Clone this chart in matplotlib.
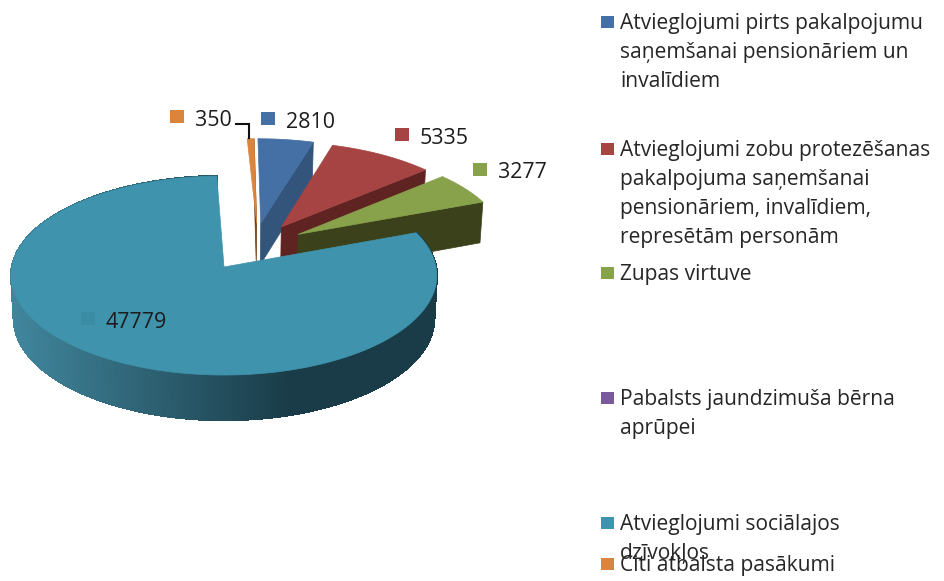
import numpy as np
import matplotlib
matplotlib.use("Agg")
import matplotlib.pyplot as plt
from matplotlib.patches import Polygon, Rectangle
from matplotlib.collections import PolyCollection
from matplotlib.colors import to_rgb

categories = ["Atvieglojumi pirts pakalpojumu\nsaņemšanai pensionāriem un\ninvalīdiem",
              "Atvieglojumi zobu protezēšanas\npakalpojuma saņemšanai\npensionāriem, invalīdiem,\nrepresētām personām",
              "Zupas virtuve",
              "Pabalsts jaundzimuša bērna\naprūpei",
              "Atvieglojumi sociālajos\ndzīvokļos",
              "Citi atbalsta pasākumi"]
values = [2810, 5335, 3277, 0, 47779, 350]

top_colors = ["#4470a5", "#a54442", "#87a24b", "#7b5a9b", "#3f93ad", "#db843d"]
wall_colors = ["#33557c", "#5f2422", "#3b411b", "#4c3763", "#1a3c48", "#6b3a10"]
# how far each slice is pulled out of the pie (sideways, backwards)
offsets = [(0.18, 0.46), (0.28, 0.42), (0.36, 0.34), (0, 0), (0, 0), (0.16, 0.46)]
legend_y = [22, 149, 273, 398, 523, 564]
label_pos = [(286, 120), (420, 136), (498, 171), None, (106, 320), (195, 118)]

FONT = "Open Sans"
K = 0.0854


def project(u, v, z=0):
    den = 1 + K * v + 0.012 * z
    return 224 + 212 * u / den, 267 + (-98.8 * v + 43 * z) / den


def slice_points(theta, off, z=0):
    u = off[0] + np.sin(theta)
    v = off[1] + np.cos(theta)
    x, y = project(u, v, z)
    return np.column_stack([x, y])


def mix(c1, c2, t):
    a, b = np.array(to_rgb(c1)), np.array(to_rgb(c2))
    return a + (b - a) * t


def draw_slice(ax, t0, t1, i):
    off = offsets[i]
    theta = np.linspace(t0, t1, 400)
    rim = slice_points(theta, off)
    tip = np.array(project(off[0], off[1]))
    tip_low = np.array(project(off[0], off[1], 1))
    end_low = slice_points(np.array([t1]), off, 1)[0]
    if i == 4:
        # big slice: shaded outer rim, light on the left and dark towards the right
        low = slice_points(theta, off, 1)
        quads = [[rim[j], rim[j + 1], low[j + 1], low[j]] for j in range(len(theta) - 1)]
        shade = np.clip((rim[:-1, 0] - 15) / 275, 0, 1)
        cols = [mix("#40859c", wall_colors[i], s) for s in shade]
        ax.add_collection(PolyCollection(quads, facecolors=cols, edgecolors=cols,
                                         linewidths=1.0, antialiased=False))
    else:
        ax.add_patch(Polygon([tip, rim[-1], end_low, tip_low], closed=True,
                             fc=wall_colors[i], ec=wall_colors[i], lw=0.5))
    ax.add_patch(Polygon(np.vstack([tip, rim]), closed=True,
                         fc=top_colors[i], ec=top_colors[i], lw=0.5))


fig = plt.figure(figsize=(9.44, 5.81), dpi=100)
ax = fig.add_axes([0, 0, 1, 1])
ax.set_xlim(0, 944)
ax.set_ylim(581, 0)
ax.axis("off")

total = sum(values)
edges = np.cumsum([0] + values) / total * 2 * np.pi

for i in [5, 0, 1, 2, 4]:
    draw_slice(ax, edges[i], edges[i + 1], i)

# leader line of the small slice
ax.plot([236, 249, 249], [124, 124, 138], color="#111111", lw=1.5, solid_joinstyle="miter")

# data labels with their keys
for i, pos in enumerate(label_pos):
    if pos is None:
        continue
    key_col = "#3a8ba4" if i == 4 else top_colors[i]
    ax.add_patch(Rectangle((pos[0] - 25, pos[1] - 8), 14, 13, fc=key_col, ec="none"))
    ax.text(pos[0], pos[1] + 2, str(values[i]), fontsize=15.4, family=FONT,
            va="center", ha="left", color="#1c1c1c")

# legend
for i, name in enumerate(categories):
    y = legend_y[i]
    ax.add_patch(Rectangle((601, y - 6), 13, 12, fc=top_colors[i], ec="none"))
    ax.text(620, y - 9, name, fontsize=15.1, family=FONT, va="top", ha="left",
            color="#262626", linespacing=1.5)

plt.savefig("out.png", dpi=100)
